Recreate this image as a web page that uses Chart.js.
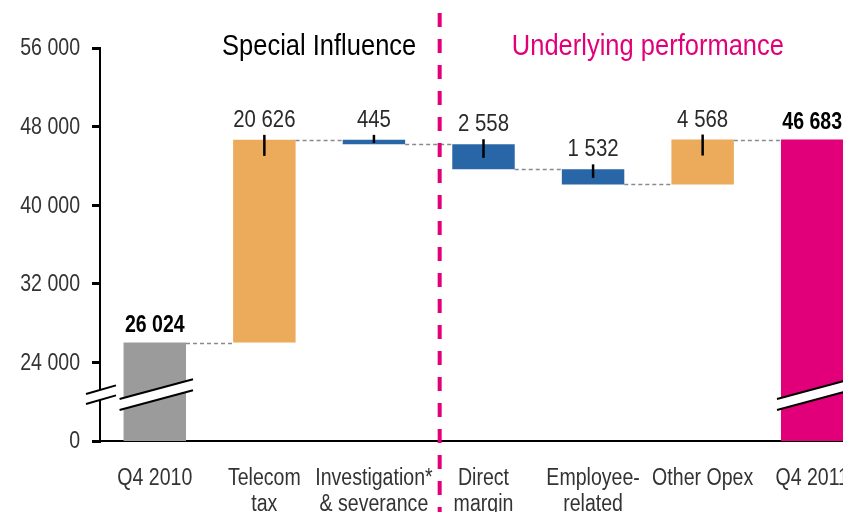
<!DOCTYPE html>
<html><head><meta charset="utf-8">
<script src="https://cdn.jsdelivr.net/npm/chart.js@4"></script>
<style>
html,body{margin:0;padding:0;background:#fff;overflow:hidden;}
#wrap{width:867px;height:512px;position:relative;}
</style></head><body>
<div id="wrap"><canvas id="c"></canvas></div>
<script>
// ---- data ----
const categories = ['Q4 2010', ['Telecom','tax'], ['Investigation*','& severance'], ['Direct','margin'], ['Employee-','related'], 'Other Opex', 'Q4 2011'];
const changes = [26024, 20626, -445, -2558, -1532, 4568, 46683];
const isTotal = [true, false, false, false, false, false, true];
const valueLabels = ['26 024', '20 626', '445', '2 558', '1 532', '4 568', '46 683'];
const yTickValues = [16000, 24000, 32000, 40000, 48000, 56000];
const yTickLabels = ['0', '24 000', '32 000', '40 000', '48 000', '56 000'];
const sectionTitles = ['Special Influence', 'Underlying performance'];
const AXIS_BREAK = 16000; // value drawn at the "0" tick (broken axis)

// ---- styles ----
const COLORS = ['#9b9b9b', '#ecaa5b', '#2866a8', '#2866a8', '#2866a8', '#ecaa5b', '#e2007a'];
const MAGENTA = '#e2007a';
const FONT = "'Liberation Sans', Arimo, Arial, sans-serif";
const NARROW = 0.85;

function narrowText(ctx, text, x, y, font, color, align, baseline) {
  ctx.save();
  ctx.font = font; ctx.fillStyle = color;
  ctx.textAlign = align || 'center'; ctx.textBaseline = baseline || 'alphabetic';
  ctx.translate(x, y); ctx.scale(NARROW, 1);
  ctx.fillText(text, 0, 0);
  ctx.restore();
}

// waterfall floating bars
let running = 0;
const bars = [];
changes.forEach((v, i) => {
  if (isTotal[i]) { bars.push([AXIS_BREAK, v]); running = v; }
  else { const s = running; running += v; bars.push([s, running]); }
});

const decor = {
  id: 'decor',
  afterDatasetsDraw(chart) {
    const ctx = chart.ctx;
    const meta = chart.getDatasetMeta(0);
    const ys = chart.scales.y;
    const els = meta.data;
    ctx.save();
    // connectors
    ctx.strokeStyle = '#8a8a8a'; ctx.lineWidth = 1.3; ctx.setLineDash([4, 3]);
    for (let i = 0; i < els.length - 1; i++) {
      const y = Math.round(ys.getPixelForValue(bars[i][1])) + 0.5;
      const x1 = els[i].x + els[i].width / 2, x2 = els[i + 1].x - els[i + 1].width / 2;
      ctx.beginPath(); ctx.moveTo(x1, y); ctx.lineTo(x2, y); ctx.stroke();
    }
    ctx.setLineDash([]);
    // bar breaks on totals
    els.forEach((el, i) => {
      if (!isTotal[i]) return;
      const base = ys.getPixelForValue(AXIS_BREAK);
      const cy = base - 46, slope = -0.27, gap = 11;
      const xl = el.x - el.width / 2 - 4, xr = el.x + el.width / 2 + 7;
      const yl = cy + slope * (xl - el.x), yr = cy + slope * (xr - el.x);
      ctx.fillStyle = '#fff';
      ctx.beginPath();
      ctx.moveTo(xl, yl - gap / 2); ctx.lineTo(xr, yr - gap / 2);
      ctx.lineTo(xr, yr + gap / 2); ctx.lineTo(xl, yl + gap / 2); ctx.closePath(); ctx.fill();
      ctx.strokeStyle = '#000'; ctx.lineWidth = 2;
      ctx.beginPath(); ctx.moveTo(xl, yl - gap / 2); ctx.lineTo(xr, yr - gap / 2); ctx.stroke();
      ctx.beginPath(); ctx.moveTo(xl, yl + gap / 2); ctx.lineTo(xr, yr + gap / 2); ctx.stroke();
    });
    // value markers and labels
    els.forEach((el, i) => {
      const top = Math.min(el.y, el.base), bot = Math.max(el.y, el.base);
      if (!isTotal[i]) {
        const below = Math.min((bot - top) / 2 + 1, 16);
        ctx.strokeStyle = '#000'; ctx.lineWidth = 2.5;
        ctx.beginPath(); ctx.moveTo(el.x, top - 5); ctx.lineTo(el.x, top + below); ctx.stroke();
        narrowText(ctx, valueLabels[i], el.x, top - 13, '24px ' + FONT, '#2a2a2a');
      } else {
        narrowText(ctx, valueLabels[i], el.x, top - 10.5, 'bold 23px ' + FONT, '#000');
      }
    });
    ctx.restore();
  },
  afterDraw(chart) {
    const ctx = chart.ctx;
    const xs = chart.scales.x, ys = chart.scales.y;
    const ax = chart.chartArea.left;
    ctx.save();
    // axis break on y axis
    const cy = ys.getPixelForValue(AXIS_BREAK) - 46, slope = -0.29, gap = 10;
    const xl = ax - 14, xr = ax + 16;
    const yl = cy + slope * (xl - ax), yr = cy + slope * (xr - ax);
    ctx.fillStyle = '#fff';
    ctx.beginPath();
    ctx.moveTo(xl, yl - gap / 2); ctx.lineTo(xr, yr - gap / 2);
    ctx.lineTo(xr, yr + gap / 2); ctx.lineTo(xl, yl + gap / 2); ctx.closePath(); ctx.fill();
    ctx.strokeStyle = '#000'; ctx.lineWidth = 2;
    ctx.beginPath(); ctx.moveTo(xl, yl - gap / 2); ctx.lineTo(xr, yr - gap / 2); ctx.stroke();
    ctx.beginPath(); ctx.moveTo(xl, yl + gap / 2); ctx.lineTo(xr, yr + gap / 2); ctx.stroke();
    // y tick labels
    yTickValues.forEach((v, i) => {
      narrowText(ctx, yTickLabels[i], ax - 20, ys.getPixelForValue(v) + 1, '23px ' + FONT, '#333', 'right', 'middle');
    });
    // x category labels
    const axisY = chart.chartArea.bottom;
    categories.forEach((c, i) => {
      const lines = Array.isArray(c) ? c : [c];
      lines.forEach((ln, k) => {
        narrowText(ctx, ln, xs.getPixelForValue(i), axisY + 44 + k * 26, '23px ' + FONT, '#333');
      });
    });
    // section divider
    const dx = xs.getPixelForValue(2.6);
    ctx.strokeStyle = MAGENTA; ctx.lineWidth = 4; ctx.setLineDash([14, 12]);
    ctx.beginPath(); ctx.moveTo(dx, 13); ctx.lineTo(dx, 512); ctx.stroke();
    ctx.setLineDash([]);
    // section titles
    narrowText(ctx, sectionTitles[0], xs.getPixelForValue(1.5), 55, '30px ' + FONT, '#000');
    narrowText(ctx, sectionTitles[1], xs.getPixelForValue(4.5), 55, '30px ' + FONT, MAGENTA);
    ctx.restore();
  }
};

new Chart(document.getElementById('c'), {
  type: 'bar',
  data: {
    labels: categories,
    datasets: [{ data: bars, backgroundColor: COLORS, borderWidth: 0, barPercentage: 0.57, categoryPercentage: 1 }]
  },
  options: {
    responsive: true, maintainAspectRatio: false, animation: false,
    layout: { padding: { top: 48, left: 0, right: 0, bottom: 0 } },
    plugins: { legend: { display: false }, tooltip: { enabled: false } },
    scales: {
      x: {
        grid: { display: true, drawOnChartArea: false, drawTicks: false },
        border: { display: true, color: '#000', width: 2 },
        ticks: { display: false },
        afterFit: (s) => { s.height = 71; }
      },
      y: {
        min: AXIS_BREAK, max: 56000,
        afterBuildTicks: (s) => { s.ticks = yTickValues.map(v => ({ value: v })); },
        grid: { drawOnChartArea: false, drawTicks: true, tickLength: 8, color: '#000', lineWidth: 3 },
        border: { display: true, color: '#000', width: 2 },
        ticks: { display: false },
        afterFit: (s) => { s.width = 100; }
      }
    }
  },
  plugins: [decor]
});
</script>
</body></html>
